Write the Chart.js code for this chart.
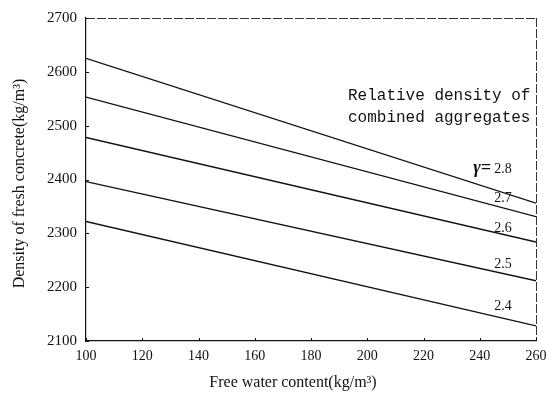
<!DOCTYPE html>
<html>
<head>
<meta charset="utf-8">
<script src="https://cdn.jsdelivr.net/npm/chart.js@4/dist/chart.umd.min.js"></script>
<style>
  html, body { margin: 0; padding: 0; background: #fff; }
  #wrap { width: 556px; height: 396px; }
</style>
</head>
<body>
<div id="wrap"><canvas id="densityChart" width="556" height="396"></canvas></div>
<script>
// values
const waterContent = [100, 260];
const gammaLabels = ['2.8', '2.7', '2.6', '2.5', '2.4'];
const density28 = [2625, 2356];
const density27 = [2553, 2331];
const density26 = [2478, 2284];
const density25 = [2396, 2212];
const density24 = [2322, 2128];
const xTicks = [100, 120, 140, 160, 180, 200, 220, 240, 260];
const yTicks = [2100, 2200, 2300, 2400, 2500, 2600, 2700];

const allDensity = [density28, density27, density26, density25, density24];

function makeDataset(label, values) {
    return {
        label: label,
        data: values.map((v, i) => ({ x: waterContent[i], y: v })),
        borderColor: '#111',
        borderWidth: 1.4,
        pointRadius: 0,
        fill: false,
        tension: 0
    };
}

const serif = '"Liberation Serif", "DejaVu Serif", serif';

// frame, inward ticks, titles and curve labels
const extrasPlugin = {
    id: 'extras',
    afterDraw(chart) {
        const ctx = chart.ctx;
        const a = chart.chartArea;
        const xs = chart.scales.x;
        const ys = chart.scales.y;
        ctx.save();

        // top and right edges look broken/dashed in the scan
        ctx.strokeStyle = '#333';
        ctx.lineWidth = 1;
        ctx.setLineDash([9, 2]);
        ctx.beginPath();
        ctx.moveTo(a.left, a.top + 0.5);
        ctx.lineTo(a.right, a.top + 0.5);
        ctx.moveTo(a.right + 0.5, a.top);
        ctx.lineTo(a.right + 0.5, a.bottom);
        ctx.stroke();
        ctx.setLineDash([]);

        // small tick marks pointing into the plot
        ctx.strokeStyle = '#111';
        ctx.beginPath();
        xTicks.forEach(t => {
            const px = Math.round(xs.getPixelForValue(t)) + 0.5;
            ctx.moveTo(px, a.bottom);
            ctx.lineTo(px, a.bottom - 3);
        });
        yTicks.forEach(t => {
            const py = Math.round(ys.getPixelForValue(t)) + 0.5;
            ctx.moveTo(a.left, py);
            ctx.lineTo(a.left + 3, py);
        });
        ctx.stroke();

        // axis titles
        ctx.fillStyle = '#111';
        ctx.font = '16px ' + serif;
        ctx.textAlign = 'center';
        ctx.textBaseline = 'middle';
        ctx.fillText('Free water content(kg/m\u00B3)', (a.left + a.right) / 2 - 18, 383);

        ctx.save();
        ctx.translate(20, (a.top + a.bottom) / 2 + 4);
        ctx.rotate(-Math.PI / 2);
        ctx.font = '16px ' + serif;
        ctx.fillText('Density of fresh concrete(kg/m\u00B3)', 0, 0);
        ctx.restore();

        // note in the upper right
        ctx.font = '16px "Liberation Mono", "DejaVu Sans Mono", monospace';
        ctx.textAlign = 'left';
        ctx.textBaseline = 'alphabetic';
        ctx.fillText('Relative density of', 348, 100);
        ctx.fillText('combined aggregates', 348, 122);

        // labels sitting on each line near the right end
        const labelX = 503;
        const lift = [16, 3, -1, 2, 5];
        ctx.font = '14px ' + serif;
        ctx.textAlign = 'center';
        ctx.textBaseline = 'bottom';
        chart.data.datasets.forEach((ds, i) => {
            const pts = chart.getDatasetMeta(i).data;
            const p0 = pts[0], p1 = pts[pts.length - 1];
            const ly = p0.y + (labelX - p0.x) / (p1.x - p0.x) * (p1.y - p0.y);
            ctx.fillText(ds.label, labelX, ly - lift[i]);
        });

        // the gamma in front of the top label
        const top = chart.getDatasetMeta(0).data;
        const gy = top[0].y + (labelX - top[0].x) / (top[1].x - top[0].x) * (top[1].y - top[0].y);
        ctx.font = 'bold italic 18px ' + serif;
        ctx.textAlign = 'right';
        ctx.fillText('\u03B3=', 491, gy - 15);

        ctx.restore();
    }
};

const ctx = document.getElementById('densityChart').getContext('2d');

const densityChart = new Chart(ctx, {
    type: 'line',
    data: {
        datasets: gammaLabels.map((g, i) => makeDataset(g, allDensity[i]))
    },
    options: {
        responsive: false,
        animation: false,
        layout: {
            padding: { left: 0, right: 20, top: 15, bottom: 0 }
        },
        plugins: {
            legend: { display: false },
            tooltip: { enabled: false }
        },
        scales: {
            x: {
                type: 'linear',
                min: 100,
                max: 260,
                afterBuildTicks: s => { s.ticks = xTicks.map(v => ({ value: v })); },
                afterFit: s => { s.height = 55; },
                grid: { display: false, drawTicks: false },
                border: { display: true, color: '#111', width: 1.2 },
                ticks: {
                    color: '#111',
                    padding: 7,
                    maxRotation: 0,
                    callback: v => String(v),
                    font: { family: serif, size: 14 }
                }
            },
            y: {
                type: 'linear',
                min: 2100,
                max: 2700,
                afterBuildTicks: s => { s.ticks = yTicks.map(v => ({ value: v })); },
                afterFit: s => { s.width = 86; },
                grid: { display: false, drawTicks: false },
                border: { display: true, color: '#111', width: 1.2 },
                ticks: {
                    color: '#111',
                    padding: 9,
                    callback: v => String(v),
                    font: { family: serif, size: 15 }
                }
            }
        }
    },
    plugins: [extrasPlugin]
});
</script>
</body>
</html>
